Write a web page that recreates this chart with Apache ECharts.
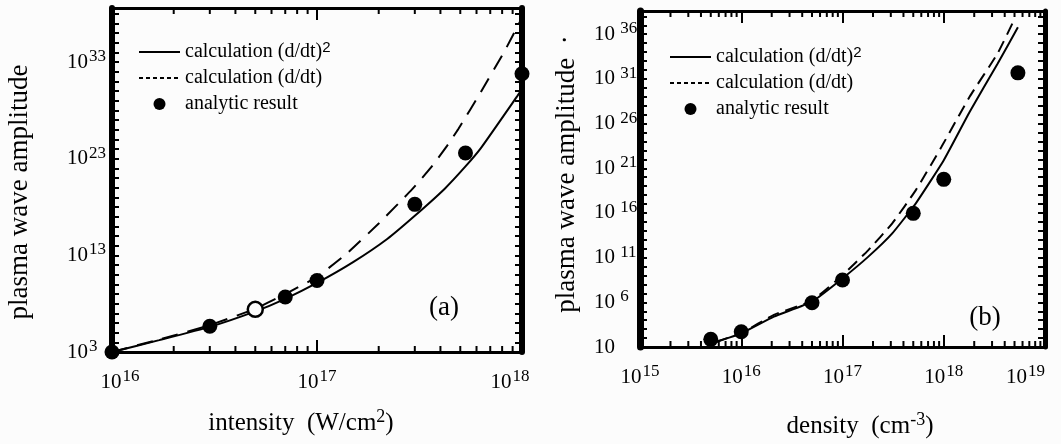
<!DOCTYPE html>
<html>
<head>
<meta charset="utf-8">
<script src="https://cdn.jsdelivr.net/npm/echarts@6/dist/echarts.min.js"></script>
<style>
  html, body { margin: 0; padding: 0; background: #fcfcfc; }
  #chart { width: 1061px; height: 444px; }
</style>
</head>
<body>
<div id="chart"></div>
<script>
const serif = "'Liberation Serif', 'Times New Roman', serif";

// ---- panel (a): amplitude vs intensity (W/cm2) ----
const intensitySq = [1e16, 1.7e16, 3e16, 5e16, 7e16, 1e17, 1.5e17, 2.2e17, 3e17, 4.2e17, 5.3e17, 6.3e17, 9.5e17, 1e18];
const ampSqA      = [1e3, 1.7e4, 4e5, 1.6e7, 3.2e8, 1.4e10, 2e12, 5e14, 1.26e17, 8e19, 1.6e22, 1.26e24, 3.2e29, 1.6e30];
const intensityD  = [1e16, 1.7e16, 3e16, 5e16, 7e16, 1e17, 1.4e17, 2e17, 2.9e17, 3.6e17, 4.3e17, 4.9e17, 6.3e17, 8.3e17, 1e18];
const ampDA       = [1e3, 2e4, 6e5, 3e7, 1e9, 6e10, 1.6e13, 2e16, 6.3e19, 1.26e22, 2e24, 1.26e26, 8e29, 2e34, 4e37];
const intensityPts = [1e16, 3e16, 5e16, 7e16, 1e17, 3e17, 5.3e17, 1e18];
const ampPtsA      = [1e3, 4.7e5, 2.6e7, 4.9e8, 2.5e10, 1.9e18, 3.9e23, 6.3e31];

// ---- panel (b): amplitude vs density (cm-3) ----
const densitySq = [5.7e15, 1e16, 2.1e16, 5e16, 1e17, 1.8e17, 3.1e17, 5.3e17, 1e18, 1.8e18, 3.4e18, 5.4e18];
const ampSqB    = [39, 340, 2.5e4, 1.2e6, 4.8e8, 1.3e11, 5.2e13, 1.2e17, 8e21, 2e27, 5e32, 6e36];
const densityD  = [5.7e15, 1e16, 2.1e16, 5e16, 1e17, 1.8e17, 3.1e17, 5.3e17, 9.5e17, 1.8e18, 3.4e18, 5.1e18];
const ampDB     = [39, 360, 4e4, 1.6e6, 1.1e9, 7e11, 7e14, 3.6e18, 2.5e23, 1e29, 7e33, 8e37];
const densityPts = [5e15, 1e16, 5e16, 1e17, 5e17, 1e18, 5.4e18];
const ampPtsB    = [72, 510, 9e5, 3.1e8, 9e15, 5.8e19, 4.8e31];

const seriesNames = ['calculation (d/dt)^2', 'calculation (d/dt)', 'analytic result'];
const minorMultipliers = [2, 3, 4, 5, 6, 7, 8, 9];
const decadesA = [16, 17];
const decadesB = [15, 16, 17, 18];

const toLog = (xs, ys) => xs.map((x, i) => [Math.log10(x), Math.log10(ys[i])]);

const supRich = (base, sup, supLH) => ({
    b: { fontFamily: serif, fontSize: base, lineHeight: 28, color: '#000' },
    s: { fontFamily: serif, fontSize: sup, lineHeight: supLH, verticalAlign: 'top', color: '#000', padding: [0, 0, 0, 1] },
    b0: { fontFamily: serif, fontSize: base, lineHeight: 28, color: '#000', padding: [0, 0, 0, 16] },
    s9: { fontFamily: serif, fontSize: sup, lineHeight: supLH, verticalAlign: 'top', color: '#000', padding: [0, 24, 0, 1] }
});

// log minor ticks (2..9 per decade) on bottom and top edges
function minorTicks(yMin, yMax, len) {
    return function (params, api) {
        const x = api.value(0);
        const b = api.coord([x, yMin]);
        const t = api.coord([x, yMax]);
        return {
            type: 'group',
            children: [
                { type: 'line', shape: { x1: b[0], y1: b[1], x2: b[0], y2: b[1] - len }, style: { stroke: '#000', lineWidth: 2 } },
                { type: 'line', shape: { x1: t[0], y1: t[1], x2: t[0], y2: t[1] + len }, style: { stroke: '#000', lineWidth: 2 } }
            ]
        };
    };
}

const minorData = (decades, yMin) => decades.flatMap(d => minorMultipliers.map(m => [d + Math.log10(m), yMin]));
const blankLabels = { formatter: () => '' };

function frameX(grid, min, max, pos, labels) {
    return {
        gridIndex: grid, type: 'value', min: min, max: max, interval: 1, position: pos,
        axisLine: { show: true, onZero: false, lineStyle: { color: '#000', width: 3 } },
        axisTick: { show: true, inside: true, length: 12, lineStyle: { color: '#000', width: 2 } },
        axisLabel: labels || blankLabels,
        splitLine: { show: false }
    };
}

function frameY(grid, min, max, pos, width, labels) {
    return {
        gridIndex: grid, type: 'value', min: min, max: max, interval: 1, position: pos,
        axisLine: { show: true, onZero: false, lineStyle: { color: '#000', width: width } },
        axisTick: { show: true, inside: true, length: 7, lineStyle: { color: '#000', width: 2 } },
        axisLabel: labels || blankLabels,
        splitLine: { show: false }
    };
}

const legendRich = {
    t: { fontFamily: serif, fontSize: 20, lineHeight: 24, color: '#000' },
    s: { fontFamily: "'Liberation Sans', Arial, sans-serif", fontSize: 15, lineHeight: 10, verticalAlign: 'top', color: '#000' }
};
const legendFormatter = name => name.endsWith('^2')
    ? '{t|' + name.slice(0, -2) + '}{s|2}'
    : '{t|' + name + '}';
const noSymbol = { color: 'rgba(0,0,0,0)', borderColor: 'rgba(0,0,0,0)', borderWidth: 0 };

function legendFor(left, top) {
    return {
        left: left, top: top, orient: 'vertical', padding: 0,
        itemWidth: 41, itemHeight: 12, itemGap: 6,
        selectedMode: false,
        data: [
            { name: seriesNames[0], itemStyle: noSymbol, lineStyle: { width: 2, color: '#000' } },
            { name: seriesNames[1], itemStyle: noSymbol, lineStyle: { type: [4, 3], width: 2, color: '#000' } },
            { name: seriesNames[2], itemStyle: { color: '#000', opacity: 1 } }
        ],
        formatter: legendFormatter,
        textStyle: { rich: legendRich }
    };
}

const lineBase = { type: 'line', symbol: 'none', smooth: 0.15, color: '#000' };
const dotStyle = { color: '#000', opacity: 1 };
const titleRich = {
    t: { fontFamily: serif, fontSize: 25, lineHeight: 30, fill: '#000' },
    s: { fontFamily: serif, fontSize: 18, lineHeight: 16, verticalAlign: 'top', fill: '#000' }
};

const chart = echarts.init(document.getElementById('chart'));
chart.setOption({
    animation: false,
    backgroundColor: '#fcfcfc',
    grid: [
        { left: 112, top: 5, width: 410, height: 347 },
        { left: 640, top: 11, width: 405, height: 336 }
    ],
    xAxis: [
        frameX(0, 16, 18, 'bottom', {
            margin: 16,
            formatter: v => v === 16 ? '{b0|10}{s|16}' : v === 18 ? '{b|10}{s9|18}' : '{b|10}{s|' + v + '}',
            rich: supRich(21, 17, 16)
        }),
        frameX(0, 16, 18, 'top'),
        frameX(1, 15, 19, 'bottom', {
            margin: 16,
            alignMaxLabel: 'right',
            formatter: v => '{b|10}{s|' + v + '}',
            rich: supRich(21, 17, 16)
        }),
        frameX(1, 15, 19, 'top')
    ],
    yAxis: [
        frameY(0, 3, 38.6, 'left', 6, {
            align: 'left', margin: 45,
            formatter: v => ((v - 3) % 10 === 0) ? '{b|10}{s|' + v + '}' : '',
            rich: supRich(21, 17, 13)
        }),
        frameY(0, 3, 38.6, 'right', 6),
        frameY(1, 1, 38.6, 'left', 7, {
            align: 'left', margin: 46,
            formatter: v => ((v - 1) % 5 === 0) ? (v === 1 ? '{b|10}' : '{b|10}{s| ' + v + '}') : '',
            rich: supRich(21, 17, 16)
        }),
        frameY(1, 1, 38.6, 'right', 5)
    ],
    legend: [legendFor(138, 40), legendFor(669, 45)],
    series: [
        // (a)
        { ...lineBase, name: seriesNames[0], xAxisIndex: 0, yAxisIndex: 0,
          lineStyle: { width: 2 }, data: toLog(intensitySq, ampSqA) },
        { ...lineBase, name: seriesNames[1], xAxisIndex: 0, yAxisIndex: 0,
          lineStyle: { width: 2, type: [16, 10] }, data: toLog(intensityD, ampDA) },
        { type: 'scatter', name: seriesNames[2], xAxisIndex: 0, yAxisIndex: 0, clip: false,
          symbolSize: 15, itemStyle: dotStyle, z: 5,
          data: toLog(intensityPts, ampPtsA).map((p, i) => i === 2
              ? { value: p, itemStyle: { color: '#fcfcfc', borderColor: '#000', borderWidth: 2.5, opacity: 1 } }
              : p) },
        { type: 'custom', xAxisIndex: 0, yAxisIndex: 0, silent: true, z: 10,
          renderItem: minorTicks(3, 38.6, 6), data: minorData(decadesA, 3) },
        // (b)
        { ...lineBase, name: seriesNames[0], xAxisIndex: 2, yAxisIndex: 2,
          lineStyle: { width: 2 }, data: toLog(densitySq, ampSqB) },
        { ...lineBase, name: seriesNames[1], xAxisIndex: 2, yAxisIndex: 2,
          lineStyle: { width: 2, type: [12, 7] }, data: toLog(densityD, ampDB) },
        { type: 'scatter', name: seriesNames[2], xAxisIndex: 2, yAxisIndex: 2, clip: false,
          symbolSize: 15, itemStyle: dotStyle, z: 5, data: toLog(densityPts, ampPtsB) },
        { type: 'custom', xAxisIndex: 2, yAxisIndex: 2, silent: true, z: 10,
          renderItem: minorTicks(1, 38.6, 6), data: minorData(decadesB, 1) }
    ],
    graphic: [
        { type: 'text', x: 20, y: 192, rotation: Math.PI / 2,
          style: { text: 'plasma wave amplitude', font: '27px ' + serif, fill: '#000', align: 'center', verticalAlign: 'middle' } },
        { type: 'text', x: 567, y: 174, rotation: Math.PI / 2,
          style: { text: 'plasma wave amplitude  \u00b7', font: '27px ' + serif, fill: '#000', align: 'center', verticalAlign: 'middle' } },
        { type: 'text', x: 301, y: 423,
          style: { text: '{t|intensity  (W/cm}{s|2}{t|)}', align: 'center', verticalAlign: 'middle', rich: titleRich } },
        { type: 'text', x: 860, y: 426,
          style: { text: '{t|density  (cm}{s|-3}{t|)}', align: 'center', verticalAlign: 'middle', rich: titleRich } },
        { type: 'text', x: 444, y: 308,
          style: { text: '(a)', font: '27px ' + serif, fill: '#000', align: 'center', verticalAlign: 'middle' } },
        { type: 'text', x: 985, y: 318,
          style: { text: '(b)', font: '27px ' + serif, fill: '#000', align: 'center', verticalAlign: 'middle' } }
    ]
});
</script>
</body>
</html>
